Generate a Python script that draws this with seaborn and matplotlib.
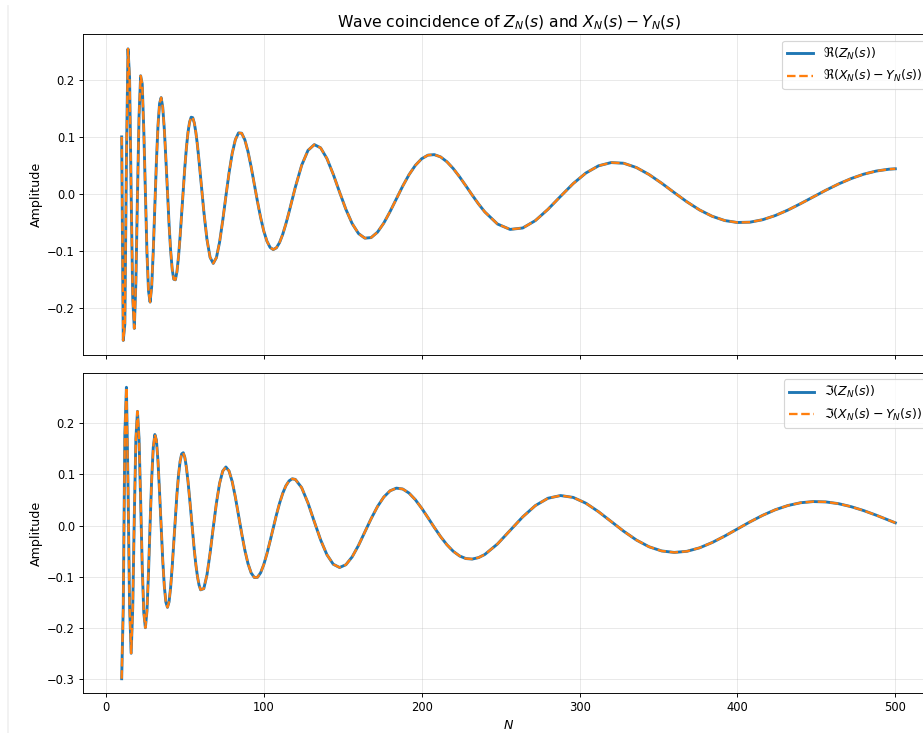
import seaborn as sns
import matplotlib.pyplot as plt
from matplotlib.lines import Line2D

# sample positions N (dense at the start where the wave is fast)
n_values = (list(range(10, 61)) + list(range(62, 121, 2))
            + list(range(124, 241, 4)) + list(range(248, 497, 8)) + [500])

re_z = [
    0.1002, -0.2560, -0.2273, 0.0597, 0.2543, 0.2045, 0.0016, -0.1816, -0.2350, -0.1531,
    -0.0019, 0.1368, 0.2072, 0.1930, 0.1124, 0.0016, -0.1016, -0.1694, -0.1889, -0.1618,
    -0.1002, -0.0212, 0.0572, 0.1204, 0.1588, 0.1690, 0.1522, 0.1139, 0.0615, 0.0036,
    -0.0519, -0.0986, -0.1317, -0.1489, -0.1499, -0.1358, -0.1094, -0.0740, -0.0336, 0.0080,
    0.0473, 0.0814, 0.1082, 0.1261, 0.1347, 0.1339, 0.1246, 0.1078, 0.0852, 0.0583,
    0.0291,
    -0.0296, -0.0790, -0.1107, -0.1212, -0.1111, -0.0841, -0.0462, -0.0036, 0.0372, 0.0714,
    0.0953, 0.1072, 0.1067, 0.0952, 0.0746, 0.0477, 0.0176, -0.0128, -0.0409, -0.0646,
    -0.0823, -0.0932, -0.0970, -0.0939, -0.0847, -0.0703, -0.0520, -0.0313, -0.0094, 0.0123,
    0.0506, 0.0766, 0.0867, 0.0811, 0.0623, 0.0348, 0.0036, -0.0265, -0.0516, -0.0689,
    -0.0770, -0.0760, -0.0666, -0.0507, -0.0304, -0.0081, 0.0141, 0.0341, 0.0504, 0.0620,
    0.0683, 0.0692, 0.0652, 0.0567, 0.0448, 0.0304, 0.0146, -0.0016, -0.0171, -0.0311,
    -0.0522, -0.0617, -0.0592, -0.0463, -0.0265, -0.0037, 0.0186, 0.0370,
    0.0496, 0.0553, 0.0541, 0.0466, 0.0344, 0.0192, 0.0027, -0.0134,
    -0.0276, -0.0387, -0.0462, -0.0496, -0.0490, -0.0447, -0.0374, -0.0278,
    -0.0166, -0.0048, 0.0069, 0.0178, 0.0273, 0.0350, 0.0405, 0.0437,
    0.0444,
]

# imaginary part of Z_N(s)
im_z = [
    -0.2999, -0.1594, 0.1779, 0.2708, 0.0822, -0.1576, -0.2500, -0.1608, 0.0187, 0.1708,
    0.2236, 0.1700, 0.0502, -0.0789, -0.1704, -0.2000, -0.1678, -0.0913, 0.0034, 0.0911,
    0.1527, 0.1783, 0.1673, 0.1258, 0.0647, -0.0037, -0.0678, -0.1185, -0.1501, -0.1601,
    -0.1494, -0.1211, -0.0804, -0.0327, 0.0163, 0.0615, 0.0989, 0.1257, 0.1404, 0.1426,
    0.1333, 0.1139, 0.0868, 0.0544, 0.0195, -0.0155, -0.0483, -0.0769, -0.0999, -0.1164,
    -0.1258,
    -0.1235, -0.0969, -0.0539, -0.0038, 0.0441, 0.0825, 0.1067, 0.1147, 0.1069, 0.0861,
    0.0558, 0.0206, -0.0153, -0.0480, -0.0745, -0.0927, -0.1016, -0.1013, -0.0924, -0.0764,
    -0.0550, -0.0304, -0.0045, 0.0208, 0.0438, 0.0631, 0.0779, 0.0874, 0.0916, 0.0904,
    0.0742, 0.0442, 0.0077, -0.0280, -0.0571, -0.0757, -0.0821, -0.0767, -0.0612, -0.0388,
    -0.0128, 0.0135, 0.0371, 0.0558, 0.0681, 0.0733, 0.0716, 0.0636, 0.0506, 0.0340,
    0.0154, -0.0036, -0.0217, -0.0376, -0.0504, -0.0595, -0.0646, -0.0656, -0.0628, -0.0566,
    -0.0361, -0.0097, 0.0170, 0.0391, 0.0535, 0.0588, 0.0551, 0.0438,
    0.0272, 0.0080, -0.0112, -0.0283, -0.0415, -0.0497, -0.0526, -0.0504,
    -0.0436, -0.0332, -0.0205, -0.0066, 0.0073, 0.0201, 0.0310, 0.0393,
    0.0447, 0.0470, 0.0463, 0.0429, 0.0370, 0.0293, 0.0202, 0.0104,
    0.0054,
]

# X_N(s) - Y_N(s) lies exactly on top of Z_N(s) in the picture
re_diff = list(re_z)
im_diff = list(im_z)

fig = plt.figure(figsize=(923 / 83, 733 / 83), dpi=83)
ax_re = fig.add_axes([83 / 923, 378 / 733, 851 / 923, 320.7 / 733])
ax_im = fig.add_axes([83 / 923, 39.7 / 733, 851 / 923, 320.6 / 733], sharex=ax_re)

# upper panel: real parts
sns.lineplot(x=n_values, y=re_z, ax=ax_re, color='#1f77b4', linewidth=2.5,
             label=r'$\Re(Z_N(s))$')
sns.lineplot(x=n_values, y=re_diff, ax=ax_re, color='#ff7f0e', linewidth=2,
             linestyle='--', label=r'$\Re(X_N(s) - Y_N(s))$')

# lower panel: imaginary parts
sns.lineplot(x=n_values, y=im_z, ax=ax_im, color='#1f77b4', linewidth=2.5,
             label=r'$\Im(Z_N(s))$')
sns.lineplot(x=n_values, y=im_diff, ax=ax_im, color='#ff7f0e', linewidth=2,
             linestyle='--', label=r'$\Im(X_N(s) - Y_N(s))$')

ax_re.set_title(r'Wave coincidence of $Z_N(s)$ and $X_N(s) - Y_N(s)$', fontsize=13.5)
for ax in (ax_re, ax_im):
    ax.set_ylabel('Amplitude', fontsize=11)
    ax.grid(True, alpha=0.3)
    ax.legend(loc='upper right', fontsize=11)
ax_re.set_xlabel('')
ax_re.tick_params(labelbottom=False)
ax_im.set_xlabel('$N$', fontsize=11)

# faint frame line on the left edge of the screenshot
fig.add_artist(Line2D([8 / 923, 8 / 923], [0, 0.992], color='#f0f0f0', lw=1.5,
                      transform=fig.transFigure))

fig.savefig('out.png', dpi=83)
